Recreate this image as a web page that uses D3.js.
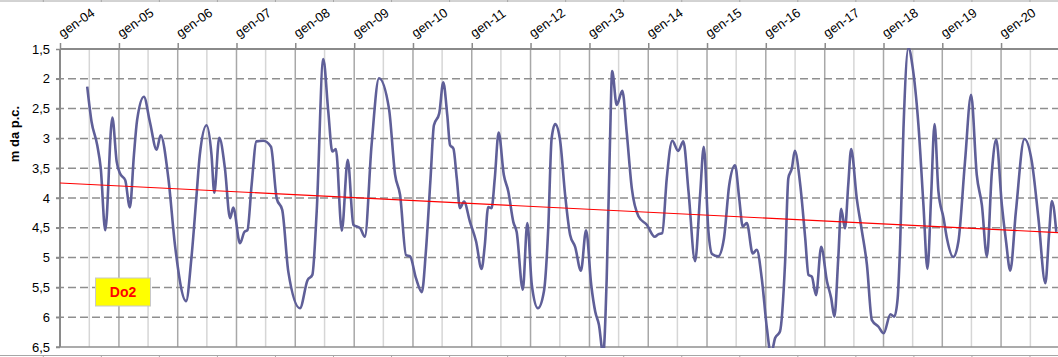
<!DOCTYPE html>
<html><head><meta charset="utf-8">
<script src="https://cdn.jsdelivr.net/npm/d3@7"></script>
<style>html,body{margin:0;padding:0;background:#fff;overflow:hidden}text{font-family:"Liberation Sans",Arial,sans-serif}</style>
</head><body><svg id="c" width="1058" height="357"></svg>
<script>
const yearLabels = ["gen-04","gen-05","gen-06","gen-07","gen-08","gen-09","gen-10","gen-11","gen-12","gen-13","gen-14","gen-15","gen-16","gen-17","gen-18","gen-19","gen-20"];
const yTicks = [1.5,2,2.5,3,3.5,4,4.5,5,5.5,6,6.5];
const yTitle = "m da p.c.";
const seriesName = "Do2";
const dates = ["2004-06-18","2004-07-15","2004-08-19","2004-09-10","2004-10-08","2004-11-21","2004-12-18","2005-01-08","2005-02-09","2005-03-10","2005-04-04","2005-04-24","2005-06-05","2005-07-12","2005-08-23","2005-09-17","2005-11-04","2005-12-15","2006-02-22","2006-03-27","2006-04-28","2006-05-18","2006-06-29","2006-07-30","2006-08-16","2006-09-16","2006-10-21","2006-11-22","2006-12-12","2007-01-23","2007-02-19","2007-03-10","2007-04-05","2007-05-05","2007-06-16","2007-08-03","2007-09-08","2007-10-12","2007-11-19","2008-01-30","2008-03-17","2008-04-16","2008-05-13","2008-06-23","2008-07-24","2008-08-18","2008-09-09","2008-10-16","2008-11-22","2008-12-27","2009-02-08","2009-03-08","2009-04-19","2009-06-04","2009-08-05","2009-09-12","2009-10-13","2009-11-19","2009-12-14","2010-01-20","2010-02-25","2010-03-22","2010-04-20","2010-05-11","2010-06-13","2010-07-08","2010-08-02","2010-08-19","2010-09-09","2010-09-30","2010-10-20","2010-11-14","2010-12-21","2011-01-28","2011-03-03","2011-03-23","2011-04-13","2011-05-04","2011-05-24","2011-06-17","2011-07-19","2011-08-16","2011-09-16","2011-10-07","2011-11-14","2011-12-12","2012-01-09","2012-02-16","2012-03-24","2012-04-20","2012-05-11","2012-06-02","2012-07-02","2012-08-03","2012-09-03","2012-10-04","2012-11-09","2012-12-11","2013-01-12","2013-02-06","2013-03-01","2013-03-27","2013-04-18","2013-05-08","2013-05-22","2013-06-19","2013-07-24","2013-08-20","2013-09-21","2013-11-02","2013-12-23","2014-02-10","2014-03-04","2014-03-29","2014-04-26","2014-05-30","2014-07-06","2014-08-07","2014-09-08","2014-10-19","2014-11-19","2014-12-12","2015-01-10","2015-02-01","2015-03-11","2015-04-16","2015-05-19","2015-06-24","2015-07-20","2015-08-11","2015-09-05","2015-10-12","2015-11-06","2015-12-07","2016-01-08","2016-02-02","2016-02-28","2016-03-29","2016-04-30","2016-05-20","2016-06-11","2016-06-29","2016-08-02","2016-09-02","2016-09-22","2016-10-13","2016-11-08","2016-12-10","2017-01-15","2017-02-10","2017-03-02","2017-03-26","2017-04-13","2017-05-07","2017-05-27","2017-06-14","2017-07-19","2017-08-19","2017-09-20","2017-10-21","2017-12-01","2018-01-02","2018-02-13","2018-03-09","2018-03-30","2018-04-14","2018-05-05","2018-06-05","2018-06-29","2018-08-06","2018-09-06","2018-10-01","2018-10-24","2018-11-14","2018-12-08","2019-01-09","2019-01-30","2019-03-10","2019-04-11","2019-05-22","2019-06-29","2019-08-03","2019-09-04","2019-10-05","2019-11-05","2019-12-02","2020-01-06","2020-02-01","2020-02-27","2020-04-02","2020-05-25","2020-07-10","2020-08-20","2020-10-02","2020-10-26","2020-11-12","2020-12-09"];
const depth = [2.13,2.72,3.11,3.50,4.54,2.65,3.39,3.59,3.70,4.16,3.28,2.69,2.30,2.72,3.19,2.95,3.67,4.79,5.73,5.01,3.95,3.28,2.78,3.28,3.91,2.99,3.50,4.34,4.16,4.76,4.57,4.54,3.78,3.05,3.04,3.14,4.01,4.20,5.24,5.85,5.38,5.29,4.23,1.67,2.55,3.22,3.18,4.55,3.36,4.45,4.51,4.65,3.11,1.99,2.50,3.61,3.95,4.96,4.98,5.35,5.58,4.90,3.67,2.78,2.58,2.06,2.61,3.11,3.17,3.67,4.17,4.06,4.40,4.73,5.19,4.79,4.15,4.17,3.67,2.90,3.61,3.89,4.40,4.57,5.54,4.42,5.46,5.85,5.57,4.51,3.00,2.76,3.02,3.95,4.62,4.82,5.22,4.54,5.46,5.91,6.13,6.62,5.35,3.11,1.87,2.44,2.20,2.89,3.84,4.31,4.45,4.65,4.61,4.59,3.67,3.04,3.21,3.05,3.89,5.06,3.95,3.14,4.57,4.94,4.98,4.68,3.78,3.45,4.01,4.48,4.42,4.93,4.87,5.35,6.19,6.62,6.35,6.24,5.07,3.67,3.50,3.21,3.78,4.68,5.29,5.32,5.63,4.82,5.40,5.68,5.99,5.01,4.18,4.51,3.78,3.18,4.01,4.54,5.12,6.05,6.16,6.27,5.95,5.99,5.68,4.79,2.83,1.48,1.77,2.78,4.12,5.19,3.95,2.76,3.89,4.34,4.68,4.99,4.73,3.39,2.27,3.61,4.12,4.98,3.56,3.02,4.12,4.73,5.22,4.23,3.01,3.39,4.34,5.43,4.57,4.05,4.57];
const trendDates = ["2004-01-01","2021-01-01"];
const trendValues = [3.748, 4.582];

const svg = d3.select("#c");
const parse = d3.timeParse("%Y-%m-%d");
const x = d3.scaleTime().domain([new Date(2004,0,1), new Date(2021,0,1)]).range([60,1060]);
const y = d3.scaleLinear().domain([1.5,6.5]).range([49,347]);
const fmt = d => String(d).replace(".", ",");
const W = 1058;

// neighbouring frame lines (cropped chart borders)
const frameTicks = d3.range(0, 18).map(i => 43.3 + i*58.04);
svg.append("line").attr("x1",0).attr("x2",W).attr("y1",1).attr("y2",1).attr("stroke","#a6a6a6").attr("stroke-width",1);
svg.append("line").attr("x1",0).attr("x2",W).attr("y1",355.5).attr("y2",355.5).attr("stroke","#a6a6a6").attr("stroke-width",1);
svg.selectAll(".ft").data(frameTicks).join("line").attr("x1",d=>d).attr("x2",d=>d).attr("y1",0).attr("y2",2).attr("stroke","#a6a6a6");
svg.selectAll(".fb").data(frameTicks).join("line").attr("x1",d=>d).attr("x2",d=>d).attr("y1",355).attr("y2",357).attr("stroke","#a6a6a6");

// vertical grid (half years)
const halfYears = d3.timeMonth.every(6).range(new Date(2004,6,1), new Date(2021,1,1));
const grid = svg.append("g");
grid.selectAll(".vg").data(halfYears).join("line")
  .attr("x1",d=>x(d)).attr("x2",d=>x(d)).attr("y1",49).attr("y2",347)
  .attr("stroke",d=>d.getMonth()===0?"#a8a8a8":"#d6d6d6").attr("stroke-width",1.5);
// horizontal dashed grid
grid.selectAll(".hg").data(yTicks.slice(1,-1)).join("line")
  .attr("x1",56).attr("x2",W).attr("y1",d=>y(d)).attr("y2",d=>y(d))
  .attr("stroke","#8f8f8f").attr("stroke-width",1.5).attr("stroke-dasharray","8,4");
// bottom line
svg.append("line").attr("x1",56).attr("x2",W).attr("y1",y(6.5)).attr("y2",y(6.5)).attr("stroke","#8f8f8f").attr("stroke-width",1.5);

// top axis
const yearDates = yearLabels.map((l,i)=>new Date(2004+i,0,1));
const ax = svg.append("g").attr("transform","translate(0,49)")
  .call(d3.axisTop(x).tickValues(yearDates).tickSize(6).tickFormat((d,i)=>yearLabels[i]));
ax.select(".domain").attr("stroke","#8a8a8a").attr("stroke-width",2).attr("d","M60,0H"+W);
ax.selectAll(".tick line").attr("stroke","#8a8a8a").attr("stroke-width",1.5);
ax.selectAll(".tick text").attr("x",0).attr("y",0).attr("dy",null)
  .attr("transform","translate(2,-11) rotate(-35)").style("text-anchor","start")
  .attr("font-size",13).attr("fill","#000");

// left axis
const ay = svg.append("g").attr("transform","translate(60,0)")
  .call(d3.axisLeft(y).tickValues(yTicks).tickSize(4).tickPadding(6).tickFormat(fmt));
ay.select(".domain").attr("stroke","#8a8a8a").attr("stroke-width",2).attr("d","M0,49V347");
ay.selectAll(".tick line").attr("stroke","#8a8a8a").attr("stroke-width",1.5);
ay.selectAll(".tick text").attr("font-size",13).attr("fill","#000");

svg.append("text").attr("transform","translate(19,134) rotate(-90)").attr("text-anchor","middle")
  .attr("font-size",13).attr("font-weight","bold").text(yTitle);

// clip
svg.append("clipPath").attr("id","pc").append("rect").attr("x",60).attr("y",48).attr("width",W-60).attr("height",300);
const data = dates.map((d,i)=>({d:parse(d), v:depth[i]}));
svg.append("path").datum(data).attr("clip-path","url(#pc)")
  .attr("fill","none").attr("stroke","#5f5f98").attr("stroke-width",2.6).attr("stroke-linejoin","round")
  .attr("d", d3.line().x(p=>x(p.d)).y(p=>y(p.v)).curve(d3.curveMonotoneX));

// trend
const trend = trendDates.map((d,i)=>({d:parse(d), v:trendValues[i]}));
svg.append("path").datum(trend).attr("clip-path","url(#pc)")
  .attr("fill","none").attr("stroke","#ff0000").attr("stroke-width",1.1)
  .attr("d", d3.line().x(p=>x(p.d)).y(p=>y(p.v)));

// label box
const lb = svg.append("g").attr("transform","translate(95.5,278)");
lb.append("rect").attr("width",55).attr("height",28).attr("fill","#ffff00").attr("stroke","#c8c8c8").attr("stroke-width",1);
lb.append("text").attr("x",27.5).attr("y",19).attr("text-anchor","middle").attr("font-size",14)
  .attr("font-weight","bold").attr("fill","#ff0000").text(seriesName);
</script></body></html>
